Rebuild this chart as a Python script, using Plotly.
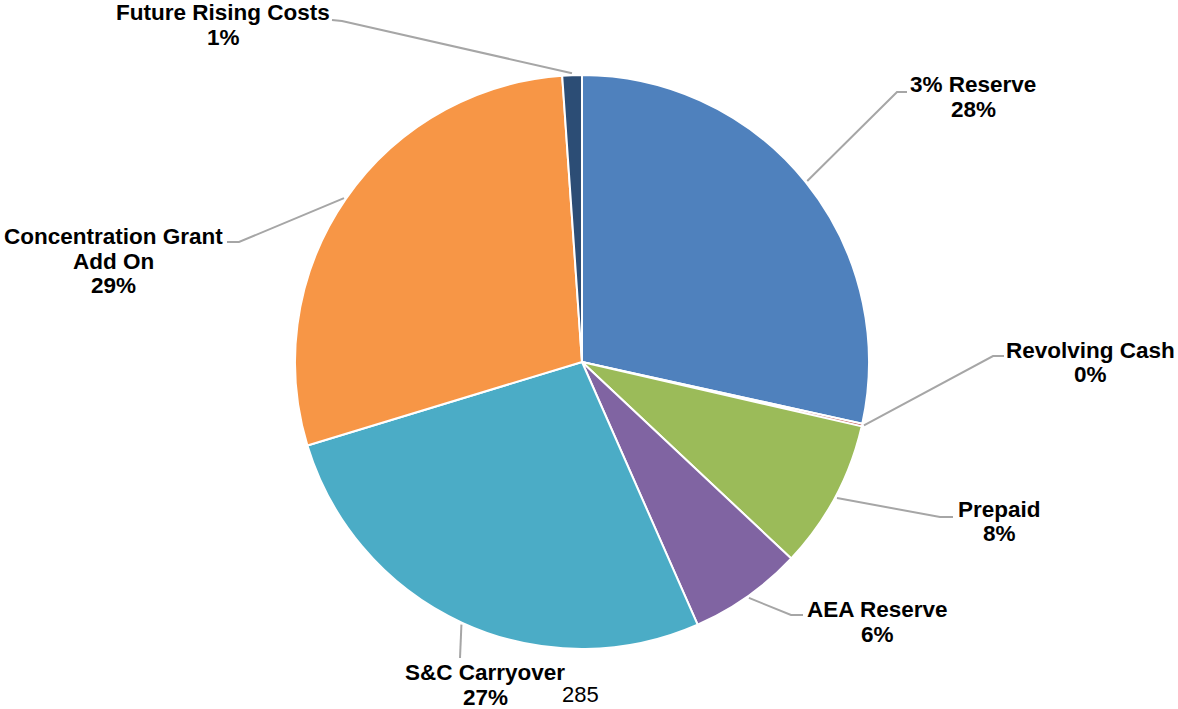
import numpy as np
import plotly.graph_objects as go

# ---- data ----
categories = ["3% Reserve", "Revolving Cash", "Prepaid", "AEA Reserve",
              "S&C Carryover", "Concentration Grant\nAdd On", "Future Rising Costs"]
values = [28.45, 0.15, 8.4, 6.4, 26.9, 28.6, 1.1]
colors = ["#4F81BD", "#C0504D", "#9BBB59", "#8064A2", "#4BACC6", "#F79646", "#2C4D75"]
page_number = "285"

# ---- layout constants (pixels) ----
W, H = 1178, 709
CX, CY, R = 582, 362, 287
FONT = "Liberation Sans, Arial, sans-serif"
FS = 22.5
LINE_GAP = 24.5

# label placement: text centre x, first-line y, leader elbow, leader end
label_layout = {
    "3% Reserve":          dict(x=973,  y=84.5, elbow=(897, 92),  end=(907, 92)),
    "Revolving Cash":      dict(x=1090, y=350,  elbow=(993, 356), end=(1004, 356)),
    "Prepaid":             dict(x=999,  y=509,  elbow=(940, 517), end=(953, 517)),
    "AEA Reserve":         dict(x=877,  y=609.5, elbow=(791, 615), end=(803, 615)),
    "S&C Carryover":       dict(x=485,  y=672.5, elbow=(460, 658), end=(460, 658)),
    "Concentration Grant\nAdd On": dict(x=113, y=236.5, elbow=(239, 242), end=(227, 242)),
    "Future Rising Costs": dict(x=223,  y=12.5, elbow=(342, 21),  end=(332, 20)),
}

vals = np.array(values, dtype=float)
total = vals.sum()
cum = np.cumsum(vals)
mid_deg = (cum - vals / 2) / total * 360.0

fig = go.Figure()

fig.add_trace(go.Pie(
    labels=[c.replace("\n", " ") for c in categories],
    values=values,
    sort=False,
    direction="clockwise",
    rotation=0,
    textinfo="none",
    hoverinfo="label+percent",
    marker=dict(colors=colors, line=dict(color="white", width=2)),
    domain=dict(x=[(CX - R) / W, (CX + R) / W],
                y=[(H - CY - R) / H, (H - CY + R) / H]),
    showlegend=False,
))

# leader lines: from slice mid-angle on the rim to label
lx, ly = [], []
annotations = []
for cat, v, ang in zip(categories, values, mid_deg):
    lay = label_layout[cat]
    a = np.deg2rad(ang)
    ax_ = CX + (R + 2) * np.sin(a)
    ay_ = CY - (R + 2) * np.cos(a)
    lx += [ax_, lay["elbow"][0], lay["end"][0], None]
    ly += [ay_, lay["elbow"][1], lay["end"][1], None]
    pct = int(v / total * 100 + 0.5)
    lines = cat.split("\n") + [f"{pct}%"]
    for i, t in enumerate(lines):
        annotations.append(dict(
            x=lay["x"], y=lay["y"] + i * LINE_GAP, xref="x", yref="y",
            text=f"<b>{t}</b>", showarrow=False, xanchor="center", yanchor="middle",
            font=dict(family=FONT, size=FS, color="#000000"),
        ))

fig.add_trace(go.Scatter(
    x=lx, y=ly, mode="lines", line=dict(color="#A6A6A6", width=2),
    hoverinfo="skip", showlegend=False,
))

annotations.append(dict(
    x=580, y=694, xref="x", yref="y", text=page_number, showarrow=False,
    xanchor="center", yanchor="middle",
    font=dict(family=FONT, size=22, color="#000000"),
))

fig.update_layout(
    width=W, height=H,
    margin=dict(l=0, r=0, t=0, b=0),
    paper_bgcolor="white", plot_bgcolor="rgba(0,0,0,0)",
    xaxis=dict(range=[0, W], visible=False, fixedrange=True, domain=[0, 1]),
    yaxis=dict(range=[H, 0], visible=False, fixedrange=True, domain=[0, 1]),
    annotations=annotations,
)

fig.write_html("out.html")
